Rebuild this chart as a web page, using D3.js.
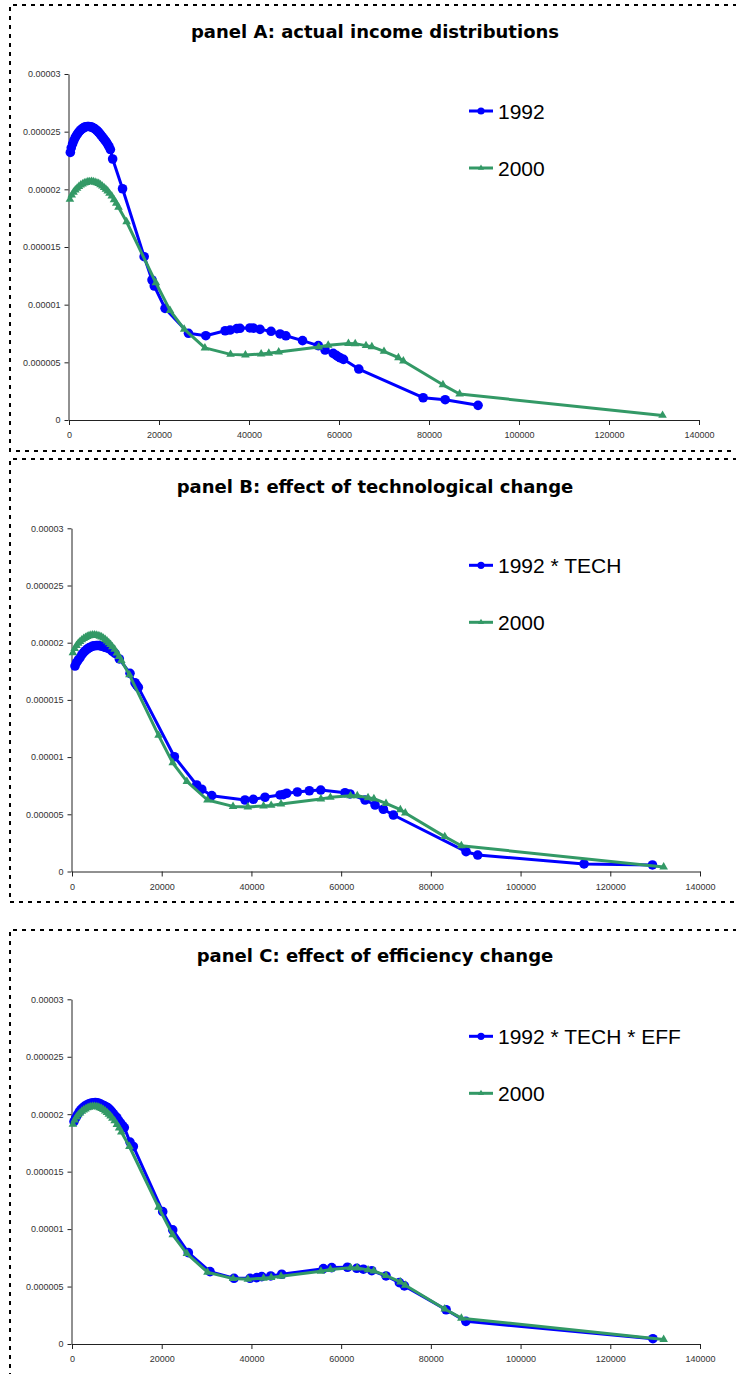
<!DOCTYPE html>
<html>
<head>
<meta charset="utf-8">
<script src="https://d3js.org/d3.v7.min.js"></script>
<style>
  body { margin: 0; background: #fff; }
  svg { display: block; }
</style>
</head>
<body>
<div id="chart"></div>
<script>
// axis ticks
var xTicks = [0, 20000, 40000, 60000, 80000, 100000, 120000, 140000];
var yTicks = [0, 0.000005, 0.00001, 0.000015, 0.00002, 0.000025, 0.00003];
var yTickLabels = ["0", "0.000005", "0.00001", "0.000015", "0.00002", "0.000025", "0.00003"];

var titles = ["panel A: actual income distributions",
              "panel B: effect of technological change",
              "panel C: effect of efficiency change"];
var blueNames = ["1992", "1992 * TECH", "1992 * TECH * EFF"];
var greenName = "2000";

// [income, density]
var dist1992 = [
  [300,23.2e-6],[500,23.6e-6],[800,23.95e-6],[1100,24.25e-6],[1400,24.5e-6],[1700,24.7e-6],
  [2000,24.88e-6],[2300,25.02e-6],[2600,25.15e-6],[2900,25.25e-6],[3200,25.33e-6],[3500,25.39e-6],
  [3800,25.43e-6],[4100,25.45e-6],[4400,25.45e-6],[4700,25.43e-6],[5000,25.4e-6],[5300,25.35e-6],
  [5600,25.28e-6],[5900,25.2e-6],[6200,25.1e-6],[6500,24.98e-6],[6800,24.85e-6],[7100,24.7e-6],
  [7400,24.55e-6],[7700,24.4e-6],[8000,24.25e-6],[8300,24.1e-6],[8600,23.9e-6],[8900,23.7e-6],
  [9200,23.45e-6],[9700,22.63e-6],[11900,20.05e-6],[16700,14.16e-6],[18450,12.14e-6],[18950,11.62e-6],
  [21350,9.68e-6],[26550,7.52e-6],[30400,7.31e-6],[34700,7.74e-6],[35800,7.8e-6],[37300,7.92e-6],
  [38000,7.95e-6],[40200,7.98e-6],[41000,7.97e-6],[42450,7.86e-6],[44900,7.69e-6],[46900,7.46e-6],
  [48200,7.3e-6],[51900,6.88e-6],[55400,6.45e-6],[56900,6.07e-6],[58700,5.78e-6],[59400,5.6e-6],
  [59800,5.49e-6],[60300,5.38e-6],[61000,5.26e-6],[64400,4.42e-6],[78700,1.93e-6],[83600,1.76e-6],
  [90900,1.27e-6]
];

var dist1992tech = [
  [670,17.96e-6],[1000,18.25e-6],[1400,18.5e-6],[1800,18.7e-6],[2200,18.95e-6],[2600,19.15e-6],
  [3000,19.3e-6],[3400,19.45e-6],[3800,19.55e-6],[4200,19.63e-6],[4600,19.7e-6],[5000,19.73e-6],
  [5400,19.75e-6],[5800,19.75e-6],[6200,19.74e-6],[6600,19.7e-6],[7000,19.65e-6],[7400,19.6e-6],
  [7800,19.55e-6],[8200,19.5e-6],[8600,19.4e-6],[9000,19.25e-6],[9600,19.07e-6],[10550,18.58e-6],
  [12930,17.32e-6],[14050,16.5e-6],[14400,16.3e-6],[14790,16.1e-6],[22820,10.03e-6],[27800,7.56e-6],
  [28920,7.19e-6],[31150,6.63e-6],[38570,6.25e-6],[40430,6.31e-6],[43030,6.49e-6],[46380,6.69e-6],
  [47120,6.72e-6],[47870,6.84e-6],[50240,6.95e-6],[52910,7.06e-6],[55450,7.12e-6],[60870,6.89e-6],
  [61980,6.78e-6],[65330,6.25e-6],[67560,5.81e-6],[69410,5.44e-6],[71640,4.94e-6],[87850,1.73e-6],
  [90450,1.44e-6],[114150,0.66e-6],[129400,0.57e-6]
];

var dist1992techEff = [
  [450,19.36e-6],[800,19.65e-6],[1200,19.95e-6],[1600,20.2e-6],[2000,20.4e-6],[2400,20.55e-6],
  [2800,20.68e-6],[3200,20.78e-6],[3600,20.87e-6],[4000,20.93e-6],[4400,20.98e-6],[4800,21.0e-6],
  [5200,21.02e-6],[5600,21.0e-6],[6000,20.95e-6],[6400,20.88e-6],[6800,20.8e-6],[7200,20.73e-6],
  [7600,20.65e-6],[8000,20.55e-6],[8400,20.42e-6],[8800,20.25e-6],[9200,20.05e-6],[9600,19.85e-6],
  [10000,19.7e-6],[10400,19.45e-6],[10850,19.22e-6],[11250,19.0e-6],[11660,18.84e-6],[12930,17.57e-6],
  [13670,17.19e-6],[20220,11.52e-6],[22450,9.93e-6],[25930,7.95e-6],[30770,6.3e-6],[36120,5.72e-6],
  [39690,5.72e-6],[41180,5.78e-6],[42300,5.86e-6],[44300,5.92e-6],[46760,6.07e-6],[56040,6.56e-6],
  [57900,6.65e-6],[61400,6.68e-6],[63480,6.59e-6],[64960,6.51e-6],[66820,6.38e-6],[70010,5.92e-6],
  [72980,5.34e-6],[74100,5.06e-6],[83400,2.98e-6],[87800,1.97e-6],[129500,0.46e-6]
];

var dist2000 = [
  [200,19.13e-6],[600,19.5e-6],[1000,19.75e-6],[1400,19.95e-6],[1800,20.1e-6],[2200,20.25e-6],
  [2600,20.37e-6],[3000,20.46e-6],[3400,20.55e-6],[3800,20.6e-6],[4200,20.65e-6],[4600,20.67e-6],
  [5000,20.68e-6],[5400,20.66e-6],[5800,20.62e-6],[6200,20.56e-6],[6600,20.5e-6],[7000,20.4e-6],
  [7400,20.28e-6],[7800,20.15e-6],[8200,20.0e-6],[8600,19.85e-6],[9000,19.65e-6],[9500,19.42e-6],
  [10000,19.1e-6],[10500,18.8e-6],[11000,18.45e-6],[12800,17.19e-6],[19300,11.9e-6],[22450,9.5e-6],
  [25600,7.87e-6],[30200,6.25e-6],[35900,5.69e-6],[39200,5.64e-6],[42700,5.72e-6],[44400,5.78e-6],
  [46600,5.9e-6],[55500,6.33e-6],[57600,6.48e-6],[62100,6.63e-6],[63600,6.62e-6],[66000,6.45e-6],
  [67300,6.36e-6],[70000,5.95e-6],[73200,5.4e-6],[74300,5.12e-6],[83100,3.05e-6],[86800,2.25e-6],
  [131900,0.4e-6]
];

var blueSeries = [dist1992, dist1992tech, dist1992techEff];

// panel layout (pixels)
var panels = [
  {left: 69, right: 699, top: 74,     bottom: 420,  titleY: 38,  boxTop: 5,   boxBottom: 451},
  {left: 72, right: 700, top: 528.3,  bottom: 871.5, titleY: 493, boxTop: 459, boxBottom: 902},
  {left: 72, right: 700, top: 999.3,  bottom: 1344, titleY: 962, boxTop: 930, boxBottom: 1400}
];

var W = 736, H = 1374;
var blue = "#0000ff", green = "#339966";

var svg = d3.select("#chart")
  .append("svg")
    .attr("width", W)
    .attr("height", H);

function drawBox(p)
{
    var path = "M" + (W + 10) + "," + p.boxTop + "H10V" + p.boxBottom + "H" + (W + 10);
    svg.append("path")
      .attr("d", path)
      .attr("fill", "none")
      .attr("stroke", "#000")
      .attr("stroke-width", 2)
      .attr("stroke-dasharray", "4,5");
}

function drawPanel(i)
{
    var p = panels[i];
    drawBox(p);

    var g = svg.append("g");

    var x = d3.scaleLinear().domain([0, 140000]).range([p.left, p.right]);
    var y = d3.scaleLinear().domain([0, 0.00003]).range([p.bottom, p.top]);

    // title
    g.append("text")
      .attr("x", 375)
      .attr("y", p.titleY)
      .attr("text-anchor", "middle")
      .style("font-family", "'DejaVu Sans', sans-serif")
      .style("font-weight", "bold")
      .style("font-size", "18px")
      .text(titles[i]);

    // X axis
    var xa = g.append("g")
      .attr("transform", "translate(0," + p.bottom + ")")
      .call(d3.axisBottom(x).tickValues(xTicks).tickFormat(d3.format("d"))
            .tickSize(5).tickSizeOuter(0).tickPadding(7));
    // Y axis
    var ya = g.append("g")
      .attr("transform", "translate(" + (p.left - 0.5) + ",0)")
      .call(d3.axisLeft(y).tickValues(yTicks).tickFormat(function(d, k) { return yTickLabels[k]; })
            .tickSize(4).tickSizeOuter(0).tickPadding(4));

    [xa, ya].forEach(function(a) {
        a.selectAll("path, line").attr("stroke", "#222");
        a.selectAll("text")
          .attr("fill", "#333")
          .style("font-family", "'Liberation Sans', Arial, sans-serif")
          .style("font-size", "9px");
    });

    var line = d3.line()
      .x(function(d) { return x(d[0]); })
      .y(function(d) { return y(d[1]); });

    // blue series: line + circles
    var bData = blueSeries[i];
    g.append("path")
      .datum(bData)
      .attr("fill", "none")
      .attr("stroke", blue)
      .attr("stroke-width", 3)
      .attr("stroke-linejoin", "round")
      .attr("d", line);
    g.selectAll(".bdot")
      .data(bData)
      .enter().append("circle")
        .attr("cx", function(d) { return x(d[0]); })
        .attr("cy", function(d) { return y(d[1]); })
        .attr("r", 4.8)
        .attr("fill", blue);

    // green series: line + triangles
    g.append("path")
      .datum(dist2000)
      .attr("fill", "none")
      .attr("stroke", green)
      .attr("stroke-width", 3)
      .attr("stroke-linejoin", "round")
      .attr("d", line);
    var tri = d3.symbol().type(d3.symbolTriangle).size(32);
    g.selectAll(".gtri")
      .data(dist2000)
      .enter().append("path")
        .attr("d", tri)
        .attr("transform", function(d) { return "translate(" + x(d[0]) + "," + y(d[1]) + ")"; })
        .attr("fill", green);

    // legend
    var names = [blueNames[i], greenName];
    var cols = [blue, green];
    names.forEach(function(n, k) {
        var ly = p.top + 37 + k * 57;
        g.append("line")
          .attr("x1", 469).attr("x2", 493)
          .attr("y1", ly).attr("y2", ly)
          .attr("stroke", cols[k])
          .attr("stroke-width", 3);
        if (k == 0) {
            g.append("circle").attr("cx", 481).attr("cy", ly).attr("r", 3.6).attr("fill", blue);
        } else {
            g.append("path").attr("d", d3.symbol().type(d3.symbolTriangle).size(16))
              .attr("transform", "translate(481," + ly + ")").attr("fill", green);
        }
        g.append("text")
          .attr("x", 498)
          .attr("y", ly + 7.5)
          .style("font-family", "'Liberation Sans', Arial, sans-serif")
          .style("font-size", "21px")
          .text(n);
    });
}

for (let i = 0; i < panels.length; i++)
{
    drawPanel(i);
}
</script>
</body>
</html>
